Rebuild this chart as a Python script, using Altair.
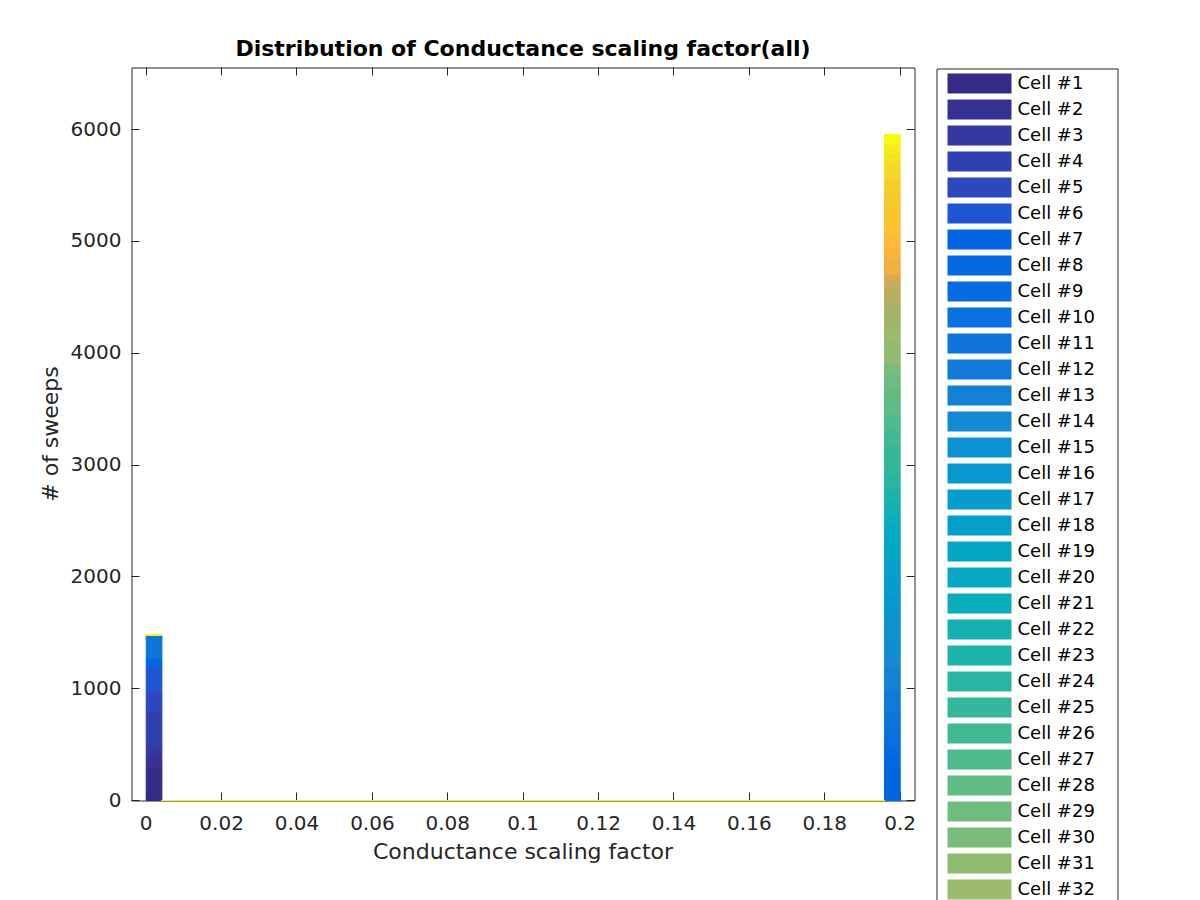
import altair as alt
import pandas as pd
import numpy as np

# ---------------- data ----------------
cells = [f"Cell #{i}" for i in range(1, 51)]

colors = [
    "#352a87", "#363093", "#3438a0", "#2f40b2", "#2b48bf", "#1f55d4", "#0365e0", "#0368e0",
    "#066be0", "#0b70df", "#0e74dc", "#1079d9", "#1382d4", "#138ad2", "#0f91d1", "#0898d0",
    "#069cce", "#04a0cc", "#05a5c6", "#06a9c1", "#0aaebb", "#15b1b1", "#1eb3a9", "#28b5a3",
    "#35b79b", "#42b993", "#4fba8c", "#62bb85", "#6fbc80", "#7cbc7a", "#90bb71", "#9cbb6c",
    "#a2b468", "#aab166", "#b3ae63", "#bcad5f", "#c6ac5b", "#d4aa56", "#f0b046", "#fbb43c",
    "#fdb93a", "#fcc230", "#f9c52e", "#f6c92c", "#f5cd2b", "#f4d728", "#f3dd24", "#f3e41f",
    "#f5ec1a", "#f9f90f",
]

# sweeps per cell in the first bin (factor ~0) and in the last bin (factor ~0.2)
first_bin_counts = [298, 95, 104, 298, 178, 223, 75, 0, 0, 0, 208] + [0] * 39
last_bin_counts = [0, 0, 0, 0, 0, 0,
                   298, 104, 89, 152, 145, 194, 208, 209, 268, 178,
                   164, 161, 151, 149, 90, 119, 107, 134, 265, 133,
                   134, 238, 134, 90, 193, 119, 119, 90, 74, 74,
                   60, 59, 149, 89, 134, 164, 89, 75, 149, 74,
                   89, 75, 81, 88]

n_bins = 48
bin_edges = np.linspace(0.0, 0.2, n_bins + 1)

x_ticks = [0, 0.02, 0.04, 0.06, 0.08, 0.1, 0.12, 0.14, 0.16, 0.18, 0.2]
y_ticks = [0, 1000, 2000, 3000, 4000, 5000, 6000]

rows = []
for ci, cell in enumerate(cells):
    for b in range(n_bins):
        if b == 0:
            c = first_bin_counts[ci]
        elif b == n_bins - 1:
            c = last_bin_counts[ci]
        else:
            c = 0
        rows.append({"cell": cell, "cell_idx": ci, "bin": b,
                     "x0": float(bin_edges[b]), "x1": float(bin_edges[b + 1]),
                     "count": c})
df = pd.DataFrame(rows)

# ---------------- chart ----------------
FONT = "DejaVu Sans"
AX = "#262626"
W, H = 783, 733

xs = alt.Scale(domain=[-0.0039, 0.2038], nice=False, zero=False)
ys = alt.Scale(domain=[0, 6556], nice=False)
cs = alt.Scale(domain=cells, range=colors)

bottom_axis = alt.Axis(
    orient="bottom", values=x_ticks, format="~g", offset=-8, tickSize=8,
    domain=False, grid=False, labelPadding=29, labelBaseline="alphabetic",
    labelFontSize=20, labelFont=FONT, labelColor=AX, tickColor=AX, translate=0,
    title="Conductance scaling factor", titleFontSize=22, titleFont=FONT,
    titleFontWeight="normal", titleColor=AX, titleX=W / 2, titleY=66,
    titleBaseline="alphabetic", titleAlign="center",
)
left_axis = alt.Axis(
    orient="left", values=y_ticks, format="d", offset=-8, tickSize=8,
    domain=False, grid=False, labelPadding=10,
    labelFontSize=20, labelFont=FONT, labelColor=AX, tickColor=AX, translate=0,
    title="# of sweeps", titleFontSize=22, titleFont=FONT,
    titleFontWeight="normal", titleColor=AX, titleX=-82, titleY=H / 2,
    titleAngle=270, titleBaseline="alphabetic", titleAlign="center",
)
top_axis = alt.Axis(orient="top", values=x_ticks, offset=-8, tickSize=8, translate=0,
                    domain=False, grid=False, labels=False, title=None, tickColor=AX)
right_axis = alt.Axis(orient="right", values=y_ticks, offset=-8, tickSize=8, translate=0,
                      domain=False, grid=False, labels=False, title=None, tickColor=AX)

base = alt.Chart(df)

bars = base.transform_stack(
    stack="count", groupby=["bin"], as_=["y0", "y1"],
    sort=[alt.SortField("cell_idx", order="ascending")],
).mark_bar(strokeWidth=1).encode(
    x=alt.X("x0:Q", scale=xs, axis=bottom_axis),
    x2="x1:Q",
    y=alt.Y("y0:Q", scale=ys, axis=left_axis),
    y2="y1:Q",
    color=alt.Color("cell:N", scale=cs, legend=alt.Legend(
        title=None, orient="none", legendX=805, legendY=1, columns=1,
        symbolType="M-0.4,-1H6V1H-0.4ZM16.1,0Z", symbolSize=400,
        symbolStrokeWidth=0, symbolOpacity=1, symbolLimit=60,
        labelFontSize=18, labelFont=FONT, labelColor="black",
        labelOffset=56, rowPadding=6, padding=5,
        strokeColor=AX, fillColor="white", cornerRadius=0,
    )),
    stroke=alt.Stroke("cell:N", scale=cs, legend=None),
)

ghost = base.mark_point(opacity=0).encode(
    x=alt.X("x0:Q", scale=xs, axis=top_axis),
    y=alt.Y("count:Q", scale=ys, axis=right_axis),
)

chart = alt.layer(bars, ghost).resolve_axis(
    x="independent", y="independent"
).properties(
    width=W, height=H,
    autosize=alt.AutoSizeParams(type="none"),
    padding={"left": 123.5, "top": 59.5, "right": 260, "bottom": 110},
    title=alt.TitleParams(
        "Distribution of Conductance scaling factor(all)",
        fontSize=22, font=FONT, fontWeight="bold", color="black",
        anchor="middle", frame="group", offset=12, dy=23, baseline="alphabetic",
    ),
).configure(
    font=FONT, background="white",
    view=alt.ViewConfig(stroke=AX, strokeWidth=1),
)

chart.save("out.html", embed_options={"renderer": "svg", "actions": False})
